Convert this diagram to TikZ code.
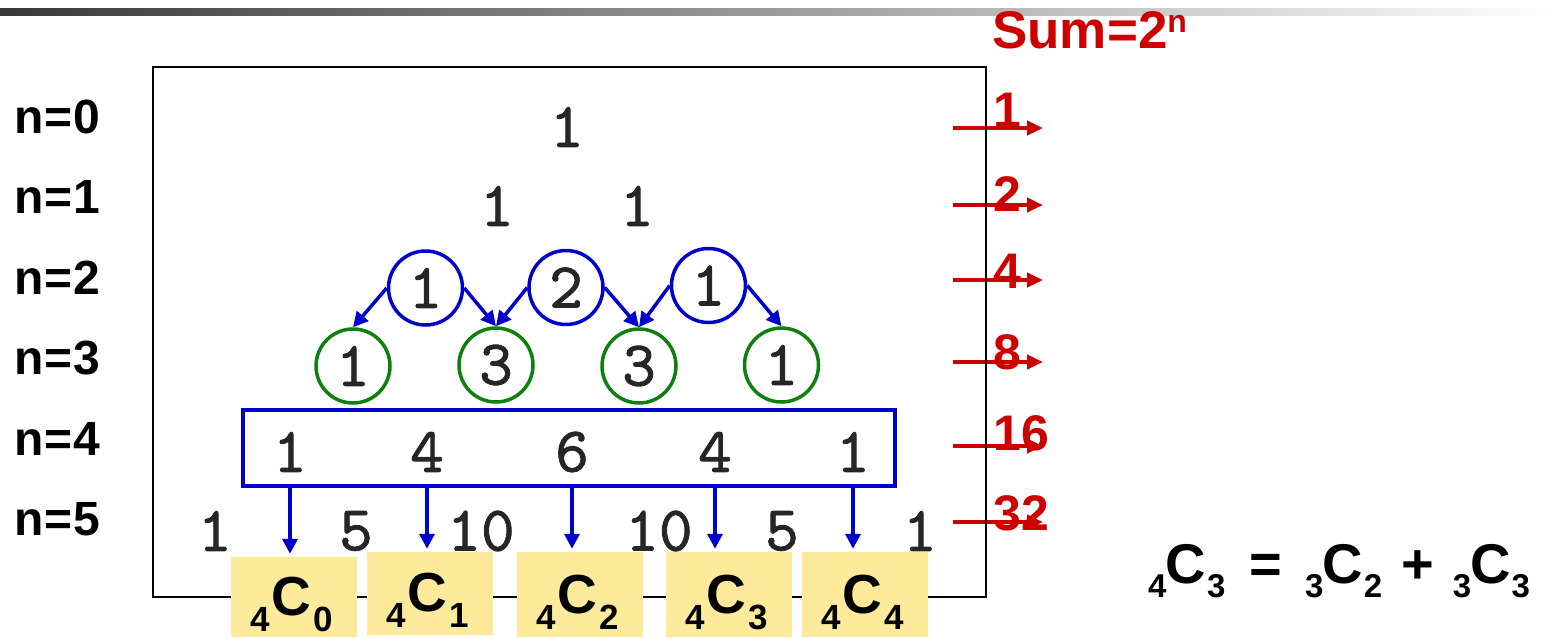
\documentclass[tikz,border=0pt]{standalone}
\usepackage{fontspec}
\setmainfont{Liberation Sans}
\newfontfamily\numfont[FakeBold=1.3]{lmmono10-regular.otf}
\usetikzlibrary{arrows.meta,calc}
\definecolor{rred}{HTML}{CC0000}
\definecolor{bblue}{HTML}{0000CC}
\definecolor{ggreen}{HTML}{0F800F}
\definecolor{yyel}{HTML}{FDEB9B}
\newcommand\fsz[1]{\fontsize{#1}{#1}\selectfont}
% subsize, Csize, drop, kern1, kern2, n, k
\newcommand\Cnk[7]{{\bfseries{\fsz{#1}\raisebox{-#3pt}{#6}}\kern#4pt{\fsz{#2}C}\kern#5pt{\fsz{#1}\raisebox{-#3pt}{#7}}}}
\begin{document}
\begin{tikzpicture}[x=1pt,y=-1pt,
  num/.style={font=\numfont\fsz{64}, text=black!85, inner sep=0pt},
  bcirc/.style={num, circle, draw=bblue, line width=3.5pt, minimum size=74pt},
  gcirc/.style={num, circle, draw=ggreen, line width=3.5pt, minimum size=74pt},
  barrow/.style={draw=bblue, line width=3.5pt, -{Triangle[length=15pt,width=15pt]}},
  rarrow/.style={draw=rred, line width=4pt, -{Triangle[length=16pt,width=14pt]}},
  rowlab/.style={font=\bfseries\fsz{48}, anchor=base west, inner sep=0pt},
  sumlab/.style={font=\bfseries\fsz{50}, text=rred, anchor=base west, inner sep=0pt},
  ybox/.style={fill=yyel, minimum width=126pt, inner sep=0pt},
  ytext/.style={anchor=base, inner sep=0pt},
]
\useasboundingbox (0,0) rectangle (1552,637);
% top gradient bar
\shade[left color=black!78, right color=white] (0,8) rectangle (1552,15);

% red sum arrows
\foreach \i/\yy in {0/128,1/205,2/280,3/362,4/446,5/522}{
  \coordinate (ra\i) at (953,\yy);
  \coordinate (rb\i) at (1043,\yy);
  \draw[rarrow] (ra\i) -- (rb\i);
}

% frame
\node[draw=black, line width=2pt, minimum width=833pt, minimum height=530pt, inner sep=0pt] (frame) at (569.5,332) {};

% row labels
\node[rowlab] (n0) at (14,133) {n\kern1pt=\kern1pt0};
\node[rowlab] (n1) at (14,213) {n\kern1pt=\kern1pt1};
\node[rowlab] (n2) at (14,294) {n\kern1pt=\kern1pt2};
\node[rowlab] (n3) at (14,374) {n\kern1pt=\kern1pt3};
\node[rowlab] (n4) at (14,455) {n\kern1pt=\kern1pt4};
\node[rowlab] (n5) at (14,535) {n\kern1pt=\kern1pt5};

% triangle
\node[num] (t00) at (567,127) {1};
\node[num] (t10) at (497,206) {1};
\node[num] (t11) at (637,206) {1};
\node[bcirc] (c20) at (425.5,288) {1};
\node[bcirc] (c21) at (566,287.5) {2};
\node[bcirc] (c22) at (708.5,285.5) {1};
\node[gcirc] (c30) at (353,366) {1};
\node[gcirc] (c31) at (496,365) {3};
\node[gcirc] (c32) at (639,366) {3};
\node[gcirc] (c33) at (781.5,365) {1};
\node[num] (t40) at (290,452) {1};
\node[num] (t41) at (427,452) {4};
\node[num] (t42) at (572,452) {6};
\node[num] (t43) at (715,452) {4};
\node[num] (t44) at (853,452) {1};
\node[num] (t50) at (215,531) {1};
\node[num] (t51) at (356,531) {5};
\node[num] (t52) at (481,531) {10};
\node[num] (t53) at (659,531) {10};
\node[num] (t54) at (782,531) {5};
\node[num] (t55) at (920,531) {1};

% circle arrows
\draw[barrow] (c20.west) -- (c30.north);
\draw[barrow] (c20.east) -- (c31.north);
\draw[barrow] (c21.west) -- (c31.north);
\draw[barrow] (c21.east) -- (c32.north);
\draw[barrow] (c22.west) -- (c32.north);
\draw[barrow] (c22.east) -- (c33.north);

% row-4 box
\node[draw=bblue, line width=3.5pt, minimum width=652pt, minimum height=76pt, inner sep=0pt] (r4) at (569,448) {};

% yellow boxes
\node[ybox, minimum height=80pt] (k0) at (294,597) {};
\node[ybox, minimum height=83pt] (k1) at (430,593.5) {};
\node[ybox, minimum height=85pt] (k2) at (579.5,594.5) {};
\node[ybox, minimum height=85pt] (k3) at (728.5,594.5) {};
\node[ybox, minimum height=85pt] (k4) at (864.5,594.5) {};

% down arrows
\foreach \i in {0,...,4}{
  \draw[barrow] (t4\i |- r4.south) -- ($(t4\i |- k\i.north)+(0,-3)$);
}

\node[ytext] (kt0) at (292,615) {\Cnk{35}{55}{16}{1}{3}{4}{0}};
\node[ytext] (kt1) at (428,611) {\Cnk{35}{55}{16}{1}{3}{4}{1}};
\node[ytext] (kt2) at (578,613) {\Cnk{35}{55}{16}{1}{3}{4}{2}};
\node[ytext] (kt3) at (727,613) {\Cnk{35}{55}{16}{1}{3}{4}{3}};
\node[ytext] (kt4) at (863,613) {\Cnk{35}{55}{16}{1}{3}{4}{4}};

% sum labels
\node[anchor=base west, inner sep=0pt, font=\bfseries\fsz{53}, text=rred] (sum) at (992,48) {Sum=2\raisebox{16pt}{\fsz{32}n}};
\node[sumlab] (s0) at (993,127) {1};
\node[sumlab] (s1) at (993,211) {2};
\node[sumlab] (s2) at (993,288) {4};
\node[sumlab] (s3) at (993,369) {8};
\node[sumlab] (s4) at (993,450) {16};
\node[sumlab] (s5) at (993,530) {32};

% equation
\node[anchor=base west, inner sep=0pt] (eq) at (1148,583) {\Cnk{33}{56}{14}{-1}{1}{4}{3}\hspace{24pt}{\bfseries\fsz{56}=}\hspace{23pt}\Cnk{33}{56}{14}{-1}{1}{3}{2}\hspace{19pt}{\bfseries\fsz{56}+}\hspace{19pt}\Cnk{33}{56}{14}{-1}{1}{3}{3}};
\end{tikzpicture}
\end{document}
